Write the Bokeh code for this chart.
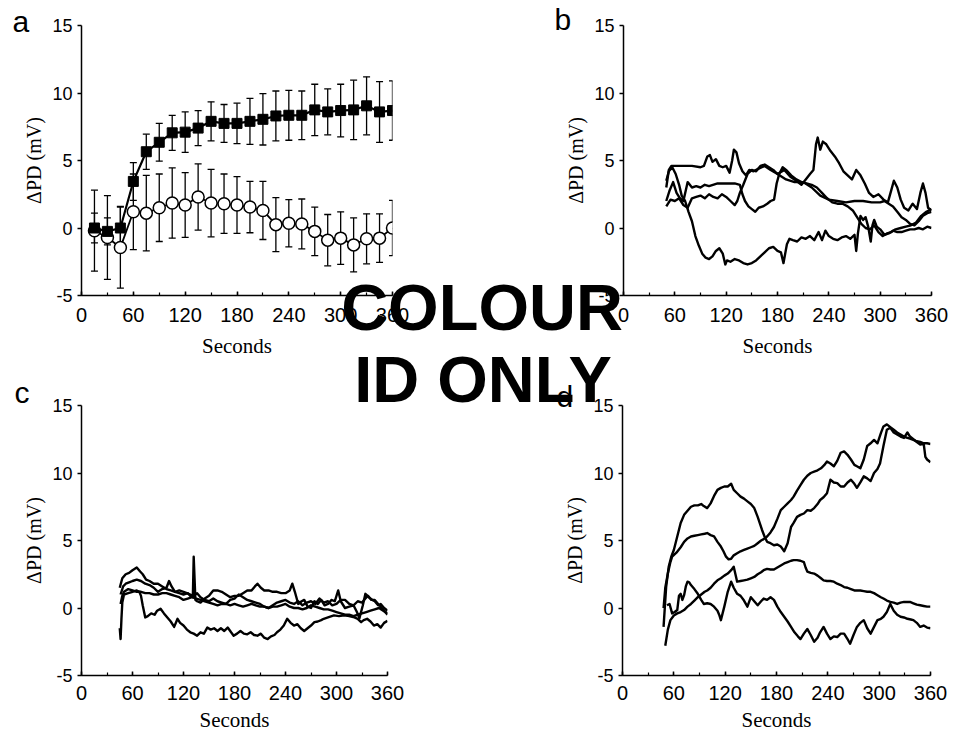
from bokeh.plotting import figure
from bokeh.models import (Range1d, SingleIntervalTicker, Whisker, TeeHead, Label,
                          GridBox, ColumnDataSource)
from bokeh.embed import file_html
from bokeh.resources import INLINE

# ---------------- data ----------------
# panel a: means and error bars, every 15 s
a_time = [15, 30, 45, 60, 75, 90, 105, 120, 135, 150, 165, 180,
          195, 210, 225, 240, 255, 270, 285, 300, 315, 330, 345, 360]
a_filled = [0.0, -0.25, 0.0, 3.45, 5.65, 6.35, 7.05, 7.1, 7.4, 7.9, 7.75, 7.75,
            7.9, 8.05, 8.3, 8.35, 8.35, 8.75, 8.6, 8.7, 8.75, 9.05, 8.6, 8.7]
a_filled_err = [1.1, 1.0, 1.6, 1.4, 1.3, 1.4, 1.3, 1.5, 1.3, 1.45, 1.4, 1.5,
                1.7, 1.9, 1.85, 1.85, 1.8, 1.9, 1.7, 1.95, 2.2, 2.15, 2.25, 2.2]
a_open = [-0.2, -0.7, -1.45, 1.2, 1.1, 1.5, 1.85, 1.7, 2.3, 1.85, 1.8, 1.7,
          1.55, 1.3, 0.25, 0.35, 0.3, -0.25, -0.9, -0.75, -1.25, -0.8, -0.75, 0.0]
a_open_err = [3.0, 3.1, 3.0, 2.8, 2.8, 2.5, 2.6, 2.4, 2.45, 2.5, 2.2, 2.1,
              1.9, 2.15, 2.0, 1.75, 1.85, 1.8, 1.9, 1.95, 2.0, 1.85, 1.8, 2.05]

# panel b: four individual traces
b1_t = [50, 53, 56, 60, 70, 80, 90, 94, 98, 101, 104, 108, 112, 116, 120, 124, 127, 129, 132, 135,
        139, 143, 147, 152, 158, 165, 172, 180, 188, 195, 202, 208, 213, 218, 222, 225, 227, 230, 233, 237,
        242, 247, 252, 257, 262, 267, 272, 277, 282, 287, 292, 298, 304, 309, 313, 316, 320, 324, 328, 333,
        338, 343, 347, 350, 353, 356, 360]
b1_v = [3.0, 4.3, 4.6, 4.6, 4.6, 4.6, 4.5, 4.6, 5.3, 5.4, 4.9, 5.1, 4.6, 4.5, 4.6, 4.1, 5.0, 5.8, 5.6, 4.8,
        4.2, 3.9, 4.3, 4.2, 4.4, 4.6, 4.3, 4.0, 4.3, 3.8, 3.5, 3.2, 3.6, 4.0, 4.3, 6.2, 6.7, 5.8, 6.4, 6.2,
        5.7, 5.3, 4.8, 4.2, 3.9, 3.6, 4.3, 3.9, 3.3, 2.6, 2.3, 2.5, 2.1, 1.9, 2.8, 3.5, 3.0, 2.1, 1.5, 1.3,
        1.8, 1.4, 2.6, 3.3, 2.6, 1.5, 1.3]
b2_t = [50, 53, 57, 61, 65, 68, 72, 76, 80, 84, 88, 92, 96, 100, 104, 108, 112, 116, 119, 121,
        125, 130, 135, 140, 145, 150, 155, 160, 165, 170, 175, 180, 184, 187, 189, 191, 194, 198, 203, 208,
        213, 218, 223, 228, 232, 236, 240, 245, 250, 255, 260, 265, 270, 272, 274, 277, 280, 283, 286, 289,
        291, 293, 296, 300, 305, 310, 315, 320, 325, 330, 335, 340, 345, 350, 355, 360]
b2_v = [3.5, 4.2, 4.5, 4.0, 3.2, 2.4, 2.0, 1.2, 0.5, -0.6, -1.3, -1.9, -2.2, -2.3, -2.1, -1.7, -1.5, -1.9, -2.7, -2.4,
        -2.5, -2.3, -2.4, -2.6, -2.7, -2.6, -2.4, -2.1, -1.8, -1.5, -1.4, -1.7, -1.8, -2.6, -1.9, -1.2, -0.8, -0.9, -1.0, -0.7,
        -0.8, -0.6, -0.9, -0.3, -0.9, -0.2, -0.6, -0.8, -0.9, -0.7, -0.6, -0.8, -0.5, -1.7, -0.4, 0.9, 0.6, 0.8, 0.1, -1.0,
        0.2, 0.6, 0.1, -0.1, -0.5, -0.4, -0.2, -0.3, -0.3, -0.2, -0.1, -0.1, 0.0, -0.1, 0.1, 0.0]
b3_t = [50, 54, 58, 62, 66, 70, 75, 80, 85, 90, 95, 100, 110, 120, 130, 136, 139, 142, 146, 150,
        154, 158, 163, 168, 172, 176, 179, 182, 186, 190, 196, 202, 208, 214, 220, 226, 232, 238, 244, 250,
        256, 262, 268, 273, 278, 283, 288, 293, 298, 303, 308, 313, 318, 324, 330, 336, 342, 348, 354, 360]
b3_v = [2.0, 2.8, 3.4, 2.6, 2.2, 2.0, 3.4, 3.0, 3.1, 3.0, 3.2, 3.1, 3.3, 3.3, 3.3, 3.2, 2.5, 2.0, 1.6, 1.4,
        1.2, 1.5, 1.6, 1.8, 2.0, 2.1, 3.3, 4.0, 4.5, 4.3, 3.9, 3.6, 3.4, 3.3, 3.2, 3.0, 2.6, 2.2, 1.9, 1.8,
        1.8, 1.6, 1.3, 0.8, 0.3, 0.0, -0.1, 0.2, -0.3, -0.6, -0.4, -0.3, -0.1, 0.0, 0.1, 0.2, 0.4, 0.9, 1.2, 1.4]
b4_t = [50, 55, 60, 65, 70, 75, 80, 85, 90, 95, 100, 105, 110, 115, 120, 125, 130, 133, 136, 140,
        145, 150, 155, 160, 165, 170, 175, 180, 190, 200, 210, 220, 230, 240, 250, 260, 270, 280, 290, 300,
        305, 310, 315, 320, 325, 330, 335, 340, 345, 350, 355, 360]
b4_v = [1.6, 2.1, 2.0, 2.2, 1.7, 1.5, 2.2, 2.3, 2.4, 2.2, 2.5, 2.3, 2.2, 2.5, 2.3, 2.0, 1.7, 2.0, 2.6, 3.2,
        4.0, 4.3, 4.2, 4.6, 4.7, 4.5, 4.3, 4.0, 3.6, 3.4, 3.4, 3.0, 2.4, 2.1, 2.0, 1.9, 2.0, 2.0, 1.9, 1.9,
        2.0, 1.8, 1.6, 1.2, 0.8, 0.6, 0.3, 0.2, 0.5, 0.9, 1.1, 1.2]

# panel c: four individual traces, (seconds, mV)
c1 = [(45, -1.5), (46, -2.3), (47, -0.8), (48, 0.4), (50, 1.0), (55, 1.1), (60, 1.2), (65, 1.3), (68, 1.2),
      (70, 0.9), (72, 0.2), (75, -0.7), (78, -0.6), (82, -0.4), (86, -0.5), (89, -0.2), (93, -0.05), (97, -0.4),
      (101, -0.7), (105, -1.0), (109, -1.4), (113, -0.8), (116, -1.1), (120, -1.3), (124, -1.6), (128, -1.8),
      (132, -1.9), (136, -2.05), (140, -1.8), (144, -1.9), (148, -1.45), (152, -1.6), (156, -1.5), (160, -1.7),
      (164, -1.5), (168, -1.7), (172, -1.45), (176, -1.8), (179, -2.05), (183, -1.9), (187, -1.7), (191, -1.9),
      (195, -1.95), (199, -1.8), (203, -2.0), (207, -2.05), (211, -1.9), (215, -2.2), (219, -2.3), (223, -2.1),
      (227, -2.0), (230, -1.8), (234, -1.6), (238, -1.3), (242, -0.8), (246, -1.1), (250, -1.3), (254, -1.2),
      (258, -1.5), (262, -1.7), (266, -1.5), (270, -1.3), (274, -1.05), (278, -1.0), (282, -0.9), (285, -0.8),
      (290, -0.7), (297, -0.55), (303, -0.6), (309, -0.55), (315, -0.6), (321, -0.7), (325, -0.8), (329, -1.05),
      (332, -0.9), (336, -0.8), (340, -1.0), (344, -1.3), (348, -1.2), (352, -1.45), (356, -1.1), (360, -0.95)]
c2 = [(45, 1.5), (48, 2.2), (52, 2.5), (56, 2.6), (60, 2.8), (65, 3.0), (69, 2.7), (72, 2.5), (76, 2.1),
      (80, 2.0), (85, 1.8), (90, 1.8), (95, 1.6), (100, 1.4), (105, 1.3), (110, 1.2), (115, 1.1), (120, 1.0),
      (125, 1.1), (128, 0.9), (131, 0.8), (132, 3.8), (134, 0.6), (136, 0.5), (140, 0.4), (145, 0.7), (150, 0.9),
      (155, 1.3), (160, 1.3), (165, 1.2), (170, 1.0), (175, 0.8), (180, 0.9), (185, 0.9), (190, 1.1), (195, 1.3),
      (200, 1.3), (204, 1.6), (207, 1.8), (211, 1.5), (215, 1.3), (220, 1.3), (225, 1.2), (230, 1.2), (235, 1.1),
      (240, 1.1), (245, 1.3), (248, 1.8), (251, 1.2), (255, 0.3), (259, 0.5), (262, 0.6), (266, 0.1), (270, 0.0),
      (274, 0.5), (278, 0.3), (282, 0.6), (286, 0.2), (290, 0.3), (294, 0.6), (298, 0.5), (302, 1.3), (305, 0.5),
      (310, 0.0), (315, 0.1), (320, 0.2), (324, -0.3), (327, -0.75), (331, 0.2), (334, 1.05), (338, 0.8),
      (342, 0.6), (345, 0.5), (349, 0.2), (352, 0.3), (356, 0.0), (360, -0.2)]
c3 = [(46, 1.0), (49, 1.6), (52, 1.8), (56, 1.9), (60, 2.0), (65, 2.1), (70, 2.0), (75, 1.8), (80, 1.7),
      (85, 1.5), (90, 1.2), (95, 1.4), (100, 1.5), (103, 2.0), (106, 1.6), (110, 1.2), (115, 1.3), (120, 1.2),
      (124, 1.1), (128, 1.0), (132, 0.9), (136, 1.1), (140, 0.8), (145, 0.6), (150, 0.5), (155, 0.7), (160, 0.5),
      (165, 0.4), (170, 0.3), (175, 0.6), (180, 0.7), (185, 1.0), (190, 0.8), (195, 0.6), (200, 0.5), (205, 0.4),
      (210, 0.3), (215, 0.1), (220, 0.0), (225, 0.2), (230, 0.4), (235, 0.5), (240, 0.6), (245, 0.4), (250, 0.3),
      (255, 0.5), (260, 0.2), (265, 0.4), (270, 0.5), (275, 0.3), (280, 0.7), (285, 0.4), (290, 0.5), (295, 0.2),
      (300, 0.3), (305, 0.6), (310, 0.6), (315, 0.3), (320, 0.2), (325, 0.5), (330, 0.4), (334, 0.7), (337, 0.9),
      (341, 0.6), (345, 0.6), (349, 0.3), (352, 0.1), (356, -0.2), (360, -0.5)]
c4 = [(46, 0.3), (48, 0.9), (50, 1.2), (55, 1.4), (60, 1.3), (65, 1.2), (70, 1.2), (75, 1.1), (80, 1.1),
      (85, 1.0), (90, 1.0), (95, 1.1), (100, 1.1), (105, 1.0), (110, 0.9), (115, 0.8), (120, 0.6), (125, 0.7),
      (130, 0.8), (135, 0.7), (140, 0.6), (145, 0.5), (150, 0.4), (155, 0.3), (160, 0.2), (165, 0.3), (170, 0.3),
      (175, 0.2), (180, 0.3), (185, 0.2), (190, 0.1), (195, 0.2), (200, 0.3), (205, 0.2), (210, 0.1), (215, 0.1),
      (220, 0.0), (225, 0.1), (230, 0.1), (235, 0.2), (240, 0.3), (245, 0.1), (250, 0.0), (255, 0.0), (260, -0.1),
      (265, 0.0), (270, 0.2), (275, 0.1), (280, 0.0), (285, -0.1), (290, -0.1), (295, -0.2), (300, -0.3),
      (305, -0.4), (310, -0.5), (315, -0.5), (320, -0.6), (325, -0.5), (330, -0.4), (335, -0.3), (340, -0.2),
      (345, -0.1), (350, 0.0), (355, -0.2), (360, -0.4)]

# panel d: four individual traces, (seconds, mV)
d1 = [(48, -1.4), (51, 1.55), (54, 3.05), (57, 3.8), (60, 4.3), (64, 5.3), (68, 6.3), (72, 6.9), (76, 7.2),
      (80, 7.5), (84, 7.6), (88, 7.6), (92, 7.7), (95, 7.55), (99, 7.4), (103, 7.75), (107, 8.3), (111, 8.75),
      (115, 8.9), (119, 9.0), (123, 9.0), (127, 9.2), (130, 8.75), (134, 8.5), (138, 8.25), (142, 8.1),
      (146, 7.9), (150, 7.7), (154, 7.4), (158, 6.75), (163, 5.8), (166, 5.3), (169, 4.9), (173, 4.8),
      (177, 4.65), (181, 4.7), (185, 4.55), (189, 4.2), (193, 4.8), (197, 6.0), (200, 6.3), (204, 6.75),
      (208, 6.9), (212, 7.0), (216, 7.25), (220, 7.2), (224, 7.4), (228, 7.7), (231, 8.0), (235, 8.2),
      (239, 8.5), (243, 9.5), (247, 9.3), (251, 9.25), (255, 9.0), (259, 9.0), (263, 9.3), (267, 9.5),
      (271, 9.2), (274, 8.9), (278, 9.3), (282, 9.75), (286, 9.6), (290, 9.4), (294, 10.0), (298, 10.3),
      (301, 10.7), (305, 12.0), (309, 13.2), (313, 13.35), (317, 13.0), (321, 12.85), (325, 12.7), (329, 12.6),
      (333, 13.0), (336, 12.7), (340, 12.5), (344, 12.3), (348, 12.1), (352, 12.2), (354, 11.2), (356, 11.0),
      (360, 10.8)]
d2 = [(48, 0.0), (50, 1.5), (53, 2.55), (56, 3.4), (58, 3.8), (63, 4.1), (68, 4.5), (72, 4.9), (76, 5.15),
      (80, 5.3), (84, 5.35), (88, 5.4), (92, 5.45), (96, 5.5), (99, 5.55), (103, 5.4), (107, 5.3), (111, 4.9),
      (115, 4.55), (118, 4.2), (121, 3.8), (124, 3.6), (127, 3.65), (130, 3.9), (134, 4.05), (138, 4.2),
      (142, 4.3), (146, 4.4), (150, 4.5), (154, 4.6), (158, 4.8), (162, 5.0), (165, 5.1), (169, 5.3), (173, 5.6),
      (177, 6.0), (181, 6.6), (185, 7.25), (189, 7.5), (193, 7.75), (197, 8.0), (200, 8.25), (204, 8.7),
      (208, 9.1), (212, 9.5), (216, 9.8), (220, 10.0), (224, 10.1), (228, 10.2), (232, 10.35), (236, 10.6),
      (239, 10.85), (243, 10.7), (247, 10.5), (251, 10.9), (255, 11.5), (259, 11.6), (263, 11.35), (267, 11.0),
      (271, 10.6), (274, 10.5), (278, 10.35), (282, 11.0), (286, 12.0), (290, 12.2), (294, 12.45), (298, 12.2),
      (302, 12.95), (305, 13.45), (309, 13.6), (313, 13.4), (317, 13.2), (321, 13.0), (325, 12.85), (329, 12.7),
      (333, 12.6), (336, 12.55), (340, 12.45), (344, 12.35), (348, 12.3), (352, 12.2), (356, 12.2), (360, 12.15)]
d3 = [(50, -2.8), (53, -1.6), (56, -0.9), (60, -0.55), (64, -0.4), (68, -0.3), (72, -0.15), (76, 0.1),
      (80, 0.3), (84, 0.55), (88, 0.8), (92, 1.0), (96, 1.2), (99, 1.3), (103, 1.5), (107, 1.8), (111, 2.05),
      (115, 2.2), (119, 2.4), (123, 2.55), (127, 2.8), (130, 3.05), (132, 2.5), (134, 1.95), (138, 2.0),
      (142, 2.05), (146, 2.1), (150, 2.2), (154, 2.3), (158, 2.5), (162, 2.65), (165, 2.8), (169, 2.9),
      (173, 2.85), (177, 2.85), (181, 3.0), (185, 3.15), (189, 3.3), (193, 3.4), (197, 3.5), (200, 3.55),
      (204, 3.55), (208, 3.5), (212, 3.4), (214, 3.0), (216, 2.7), (220, 2.6), (224, 2.55), (228, 2.4),
      (232, 2.2), (235, 2.05), (239, 2.0), (243, 2.0), (247, 1.95), (251, 1.8), (255, 1.7), (259, 1.55),
      (263, 1.5), (267, 1.4), (271, 1.3), (274, 1.3), (278, 1.3), (282, 1.25), (286, 1.2), (290, 1.2),
      (294, 1.1), (298, 0.95), (302, 0.8), (305, 0.7), (309, 0.55), (313, 0.45), (317, 0.4), (321, 0.3),
      (325, 0.4), (329, 0.45), (333, 0.45), (336, 0.45), (340, 0.35), (344, 0.25), (348, 0.2), (352, 0.15),
      (356, 0.1), (360, 0.1)]
d4 = [(52, 0.2), (55, 0.3), (58, -0.4), (61, -0.3), (64, -0.15), (66, 0.9), (68, 1.05), (70, 0.6), (72, 0.95),
      (74, 1.6), (76, 1.95), (78, 1.9), (80, 1.7), (84, 1.4), (88, 1.05), (92, 0.6), (95, 0.3), (99, 0.35),
      (103, 0.3), (107, 0.1), (111, -0.2), (113, -0.5), (115, -0.9), (117, -0.4), (119, 0.1), (123, 1.2),
      (127, 1.95), (130, 1.5), (134, 1.05), (138, 0.9), (142, 0.55), (146, 0.1), (150, 0.8), (154, 0.5),
      (158, 0.2), (162, 0.5), (165, 0.7), (169, 0.6), (173, 0.8), (177, 0.6), (181, 0.1), (185, -0.3),
      (189, -0.65), (193, -1.0), (197, -1.4), (201, -1.8), (205, -2.1), (208, -2.3), (212, -1.9), (216, -1.55),
      (220, -2.0), (224, -2.5), (228, -2.2), (231, -1.8), (235, -1.4), (239, -1.9), (243, -2.3), (247, -2.1),
      (251, -2.15), (255, -1.9), (259, -1.9), (263, -2.3), (266, -2.65), (270, -2.0), (274, -1.4), (278, -1.1),
      (282, -0.9), (286, -1.5), (290, -1.9), (294, -1.4), (298, -0.9), (302, -0.8), (305, -0.65), (309, -0.3),
      (313, 0.3), (317, -0.2), (321, -0.5), (325, -0.65), (329, -0.7), (333, -0.8), (337, -0.85), (340, -0.9),
      (344, -1.1), (348, -1.4), (352, -1.3), (356, -1.45), (360, -1.5)]

panel_letters = ["a", "b", "c", "d"]
overlay_lines = ["COLOUR", "ID ONLY"]
x_title = "Seconds"
y_title = "ΔPD (mV)"

# ---------------- styling helpers ----------------
SANS = "Liberation Sans"
SERIF = "Liberation Serif"


def make_panel(w, h, left, right, top, bottom, tick_standoff, xlabel_standoff):
    p = figure(width=w, height=h, x_range=Range1d(0, 360), y_range=Range1d(-5, 15),
               output_backend="svg", toolbar_location=None,
               min_border_left=left, min_border_right=right,
               min_border_top=top, min_border_bottom=bottom)
    p.frame_align = False
    p.grid.visible = False
    p.outline_line_color = None
    p.border_fill_alpha = 0
    xa = p.xaxis[0]
    ya = p.yaxis[0]
    xa.ticker = SingleIntervalTicker(interval=60, num_minor_ticks=2)
    ya.ticker = SingleIntervalTicker(interval=5, num_minor_ticks=0)
    ya.major_label_overrides = {-5: "-5"}
    for ax in (xa, ya):
        ax.axis_line_width = 1.5
        ax.axis_line_color = "black"
        ax.major_tick_line_color = "black"
        ax.major_tick_line_width = 1.5
        ax.minor_tick_line_color = "black"
        ax.minor_tick_line_width = 1.2
        ax.major_label_text_font = SANS
        ax.major_label_text_color = "black"
        ax.axis_label_text_font = SERIF
        ax.axis_label_text_font_style = "normal"
        ax.axis_label_text_color = "black"
    xa.major_label_text_font_size = "20px"
    ya.major_label_text_font_size = "18px"
    xa.major_tick_in = 4
    xa.major_tick_out = 0
    xa.minor_tick_in = 3
    xa.minor_tick_out = 0
    xa.major_label_standoff = tick_standoff
    xa.axis_label = x_title
    xa.axis_label_text_font_size = "21px"
    xa.axis_label_standoff = xlabel_standoff
    ya.major_tick_in = 0
    ya.major_tick_out = 4
    ya.major_label_standoff = 5
    ya.axis_label = y_title
    ya.axis_label_text_font_size = "20px"
    ya.axis_label_standoff = 4
    return p


def add_traces(p, traces):
    for tr in traces:
        t, v = zip(*tr)
        p.line(list(t), list(v), line_color="black", line_width=2.4, line_join="round")


# ---------------- panel a ----------------
pa = make_panel(548, 380, 81, 156, 25, 85, 12, 9)
src_open = ColumnDataSource(dict(t=a_time, m=a_open,
                                 lo=[m - e for m, e in zip(a_open, a_open_err)],
                                 hi=[m + e for m, e in zip(a_open, a_open_err)]))
src_fill = ColumnDataSource(dict(t=a_time, m=a_filled,
                                 lo=[m - e for m, e in zip(a_filled, a_filled_err)],
                                 hi=[m + e for m, e in zip(a_filled, a_filled_err)]))
for src in (src_open, src_fill):
    pa.add_layout(Whisker(source=src, base="t", upper="hi", lower="lo",
                          line_color="black", line_width=1.3,
                          upper_head=TeeHead(size=7, line_color="black", line_width=1.3),
                          lower_head=TeeHead(size=7, line_color="black", line_width=1.3)))
pa.line("t", "m", source=src_open, line_color="black", line_width=1.8)
pa.scatter("t", "m", source=src_open, marker="circle", size=12,
           fill_color="white", line_color="black", line_width=1.5)
pa.line("t", "m", source=src_fill, line_color="black", line_width=2.2)
pa.scatter("t", "m", source=src_fill, marker="square", size=10,
           fill_color="black", line_color="black")

# ---------------- panel b ----------------
pb = make_panel(405, 380, 75, 22, 25, 85, 12, 9)
add_traces(pb, [list(zip(b1_t, b1_v)), list(zip(b2_t, b2_v)),
                list(zip(b3_t, b3_v)), list(zip(b4_t, b4_v))])

# ---------------- panel c ----------------
pc = make_panel(548, 356, 81, 161, 25, 61, 10, 5)
add_traces(pc, [c1, c2, c3, c4])

# ---------------- panel d ----------------
pd = make_panel(405, 356, 74, 23, 25, 61, 10, 5)
add_traces(pd, [d1, d2, d3, d4])

# ---------------- overlay (panel letters + stamp), page pixel coordinates ----------------
ov = figure(width=953, height=736, x_range=Range1d(0, 953), y_range=Range1d(736, 0),
            output_backend="svg", toolbar_location=None,
            x_axis_location=None, y_axis_location=None, min_border=0)
ov.frame_align = False
ov.grid.visible = False
ov.outline_line_color = None
ov.background_fill_alpha = 0
ov.border_fill_alpha = 0

letter_pos = [(12, 21), (554, 19), (14, 392), (556, 396)]
for letter, (lx, ly) in zip(panel_letters, letter_pos):
    ov.add_layout(Label(x=lx, y=ly, text=letter, text_font=SANS, text_font_size="30px",
                        text_align="left", text_baseline="middle", text_color="black"))

stamp_pos = [(481.5, 307), (482.5, 379)]
for line_txt, (sx, sy) in zip(overlay_lines, stamp_pos):
    ov.add_layout(Label(x=sx, y=sy, text=line_txt, text_font=SANS, text_font_style="bold",
                        text_font_size="65px", text_align="center",
                        text_baseline="middle", text_color="black"))

layout = GridBox(children=[(pa, 0, 0), (pb, 0, 1), (pc, 1, 0), (pd, 1, 1), (ov, 0, 0, 2, 2)],
                 spacing=0)

open("out.html", "w").write(file_html(layout, INLINE))
